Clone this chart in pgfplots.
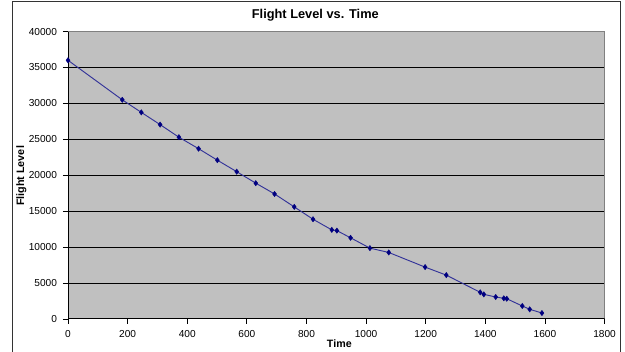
\documentclass[border=0pt]{standalone}
\usepackage{pgfplots}
\pgfplotsset{compat=1.18}
\usepackage{fontspec}
\setmainfont{Liberation Sans}
\definecolor{plotgray}{HTML}{C0C0C0}
\definecolor{navyline}{HTML}{000080}
\begin{document}
\begin{tikzpicture}
\useasboundingbox (0,0) rectangle (468.75pt,-264pt);
\draw[black!80, line width=0.75pt] (9pt,-264pt) -- (9pt,-1.5pt) -- (465pt,-1.5pt) -- (465pt,-264pt);
\begin{axis}[
  at={(51pt,-239.25pt)}, anchor=south west,
  scale only axis, width=402.4pt, height=215.6pt,
  xmin=0, xmax=1800, ymin=0, ymax=40000,
  xtick={0,200,...,1800},
  ytick={0,5000,...,40000},
  scaled ticks=false,
  /pgf/number format/assume math mode=true,
  /pgf/number format/set thousands separator={},
  ticklabel style={font=\fontsize{7.6pt}{9pt}\selectfont},
  tick align=outside, tick pos=left,
  major tick length=3.75pt,
  tick style={black, line width=0.6pt},
  axis background/.style={fill=plotgray},
  axis line style={draw=gray, line width=0.75pt},
  ymajorgrids,
  grid style={black, line width=0.75pt},
  xticklabel style={yshift=-1pt},
  yticklabel style={xshift=-1pt},
]
\addplot[color=navyline!80!white, line width=0.7pt, mark=diamond*, mark size=2pt,
  mark options={fill=navyline, draw=navyline, line width=0.3pt}] table {
t fl
0 36000
182 30500
246 28750
309 27050
372 25300
438 23700
501 22100
566 20500
630 18900
693 17400
759 15600
822 13880
885 12400
902 12300
948 11300
1013 9860
1076 9260
1198 7220
1269 6110
1383 3710
1395 3430
1435 3060
1462 2880
1472 2820
1524 1810
1549 1350
1590 830
};
\draw[black, line width=0.75pt] (rel axis cs:0,1) -- (rel axis cs:0,0) -- (rel axis cs:1,0);
\end{axis}
\node[font=\fontsize{9.6pt}{11pt}\selectfont\bfseries, anchor=base] at (236.5pt,-14.25pt) {Flight Level vs. Time};
\node[font=\fontsize{8.1pt}{9pt}\selectfont\bfseries, rotate=90] at (16pt,-132pt) {Flight Level};
\node[font=\fontsize{8pt}{9pt}\selectfont\bfseries] at (254.5pt,-257.5pt) {Time};
\end{tikzpicture}
\end{document}
